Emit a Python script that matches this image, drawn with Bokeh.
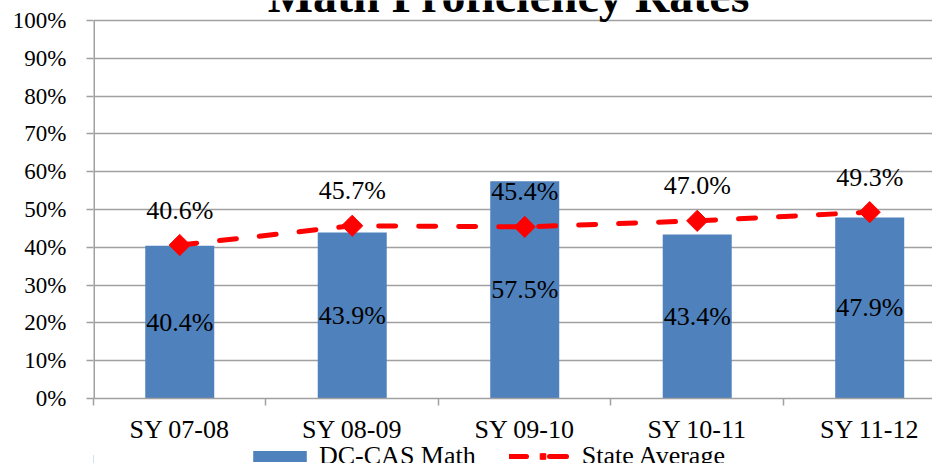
from bokeh.plotting import figure
from bokeh.layouts import column
from bokeh.models import (ColumnDataSource, FixedTicker, Range1d, Label, Legend, LegendItem)
from bokeh.core.properties import value
from bokeh.embed import file_html
from bokeh.resources import INLINE

categories = ["SY 07-08", "SY 08-09", "SY 09-10", "SY 10-11", "SY 11-12"]
dc_cas_math = [40.4, 43.9, 57.5, 43.4, 47.9]
state_average = [40.6, 45.7, 45.4, 47.0, 49.3]
y_ticks = [0, 10, 20, 30, 40, 50, 60, 70, 80, 90, 100]

FONT = "Liberation Serif"
BAR = "#4F81BD"
RED = "#FF0000"
GRID = "#A0A0A0"

X_START, X_END = -0.5, 4.364
Y_MIN, Y_TOP = 0, 105.29   # a little head room above 100% so the title can sit in the frame

xs = list(range(len(categories)))
src = ColumnDataSource(dict(
    x=xs,
    bar=dc_cas_math,
    bar_mid=[v / 2 for v in dc_cas_math],
    bar_lbl=[f"{v:.1f}%" for v in dc_cas_math],
    state=state_average,
    state_lbl=[f"{v:.1f}%" for v in state_average],
))

p = figure(width=932, height=446, output_backend="svg", toolbar_location=None,
           x_range=Range1d(X_START, X_END), y_range=Range1d(Y_MIN, Y_TOP),
           min_border_left=93, min_border_top=0, min_border_right=0, min_border_bottom=48)
p.outline_line_color = None

# value axis line, from 0% to 100% only
p.segment(x0=[X_START], y0=[y_ticks[0]], x1=[X_START], y1=[y_ticks[-1]],
          line_color=GRID, line_width=3)

bars = p.vbar(x="x", top="bar", width=0.4, source=src, fill_color=BAR, line_color=None)
line = p.line(x="x", y="state", source=src, line_color=RED, line_width=5,
              line_dash="17 23", line_cap="round")
pts = p.scatter(x="x", y="state", source=src, marker="square", angle=0.785398,
                size=15, fill_color=RED, line_color=RED)

p.text(x="x", y="bar_mid", text="bar_lbl", source=src, text_font=value(FONT),
       text_font_size="26px", text_align="center", text_baseline="middle", text_color="black")
p.text(x="x", y="state", text="state_lbl", source=src, text_font=value(FONT),
       text_font_size="26px", text_align="center", text_baseline="middle", text_color="black",
       y_offset=-35)

# axes
p.yaxis.ticker = FixedTicker(ticks=y_ticks)
p.yaxis.major_label_overrides = {t: f"{t}%" for t in y_ticks}
p.yaxis.major_tick_out = 7
p.yaxis.major_tick_in = 0
p.yaxis.minor_tick_line_color = None
p.yaxis.axis_line_color = None
p.yaxis.major_tick_line_color = GRID
p.yaxis.major_tick_line_width = 1.5
p.yaxis.major_label_text_font = FONT
p.yaxis.major_label_text_font_size = "23px"
p.yaxis.major_label_text_color = "black"
p.yaxis.major_label_standoff = 20

p.xaxis.ticker = FixedTicker(ticks=xs, minor_ticks=[i - 0.5 for i in range(len(categories) + 1)])
p.xaxis.major_label_overrides = {i: c for i, c in zip(xs, categories)}
p.xaxis.major_tick_out = 0
p.xaxis.major_tick_in = 0
p.xaxis.minor_tick_out = 7
p.xaxis.minor_tick_in = 0
p.xaxis.minor_tick_line_color = GRID
p.xaxis.minor_tick_line_width = 1.5
p.xaxis.axis_line_color = GRID
p.xaxis.axis_line_width = 1.5
p.xaxis.major_label_text_font = FONT
p.xaxis.major_label_text_font_size = "26px"
p.xaxis.major_label_text_color = "black"
p.xaxis.major_label_standoff = 9

p.xgrid.grid_line_color = None
p.ygrid.grid_line_color = GRID
p.ygrid.grid_line_width = 1.5

# title (cut off at the top, as in the reference)
p.add_layout(Label(x=1.906, y=106.5, text="Math Proficiency Rates", text_font=FONT,
                   text_font_size="48px", text_font_style="bold", text_align="center",
                   text_baseline="middle", text_color="black"))

# legend strip
lg = figure(width=932, height=17, output_backend="svg", toolbar_location=None,
            x_range=Range1d(0, 1), y_range=Range1d(0, 1), min_border=0)
lg.outline_line_color = None
lg.axis.visible = False
lg.grid.visible = False
lb = lg.vbar(x=[-10], top=[0.5], width=0.4, fill_color=BAR, line_color=None)
ll = lg.line(x=[-10, -9], y=[0.5, 0.5], line_color=RED, line_width=5,
             line_dash="17 23", line_cap="round")
ls = lg.scatter(x=[-10], y=[0.5], marker="square", angle=0.785398, size=15,
                fill_color=RED, line_color=RED)
legend = Legend(items=[LegendItem(label="DC-CAS Math", renderers=[lb]),
                       LegendItem(label="State Average", renderers=[ll, ls])],
                orientation="horizontal", location=(153, -8),
                label_text_font=FONT, label_text_font_size="26px", label_text_color="black",
                glyph_width=67, glyph_height=14, label_standoff=6, spacing=33,
                padding=0, margin=0, border_line_color=None, background_fill_alpha=0)
lg.add_layout(legend)

open("out.html", "w").write(file_html(column(p, lg, spacing=0), INLINE))
